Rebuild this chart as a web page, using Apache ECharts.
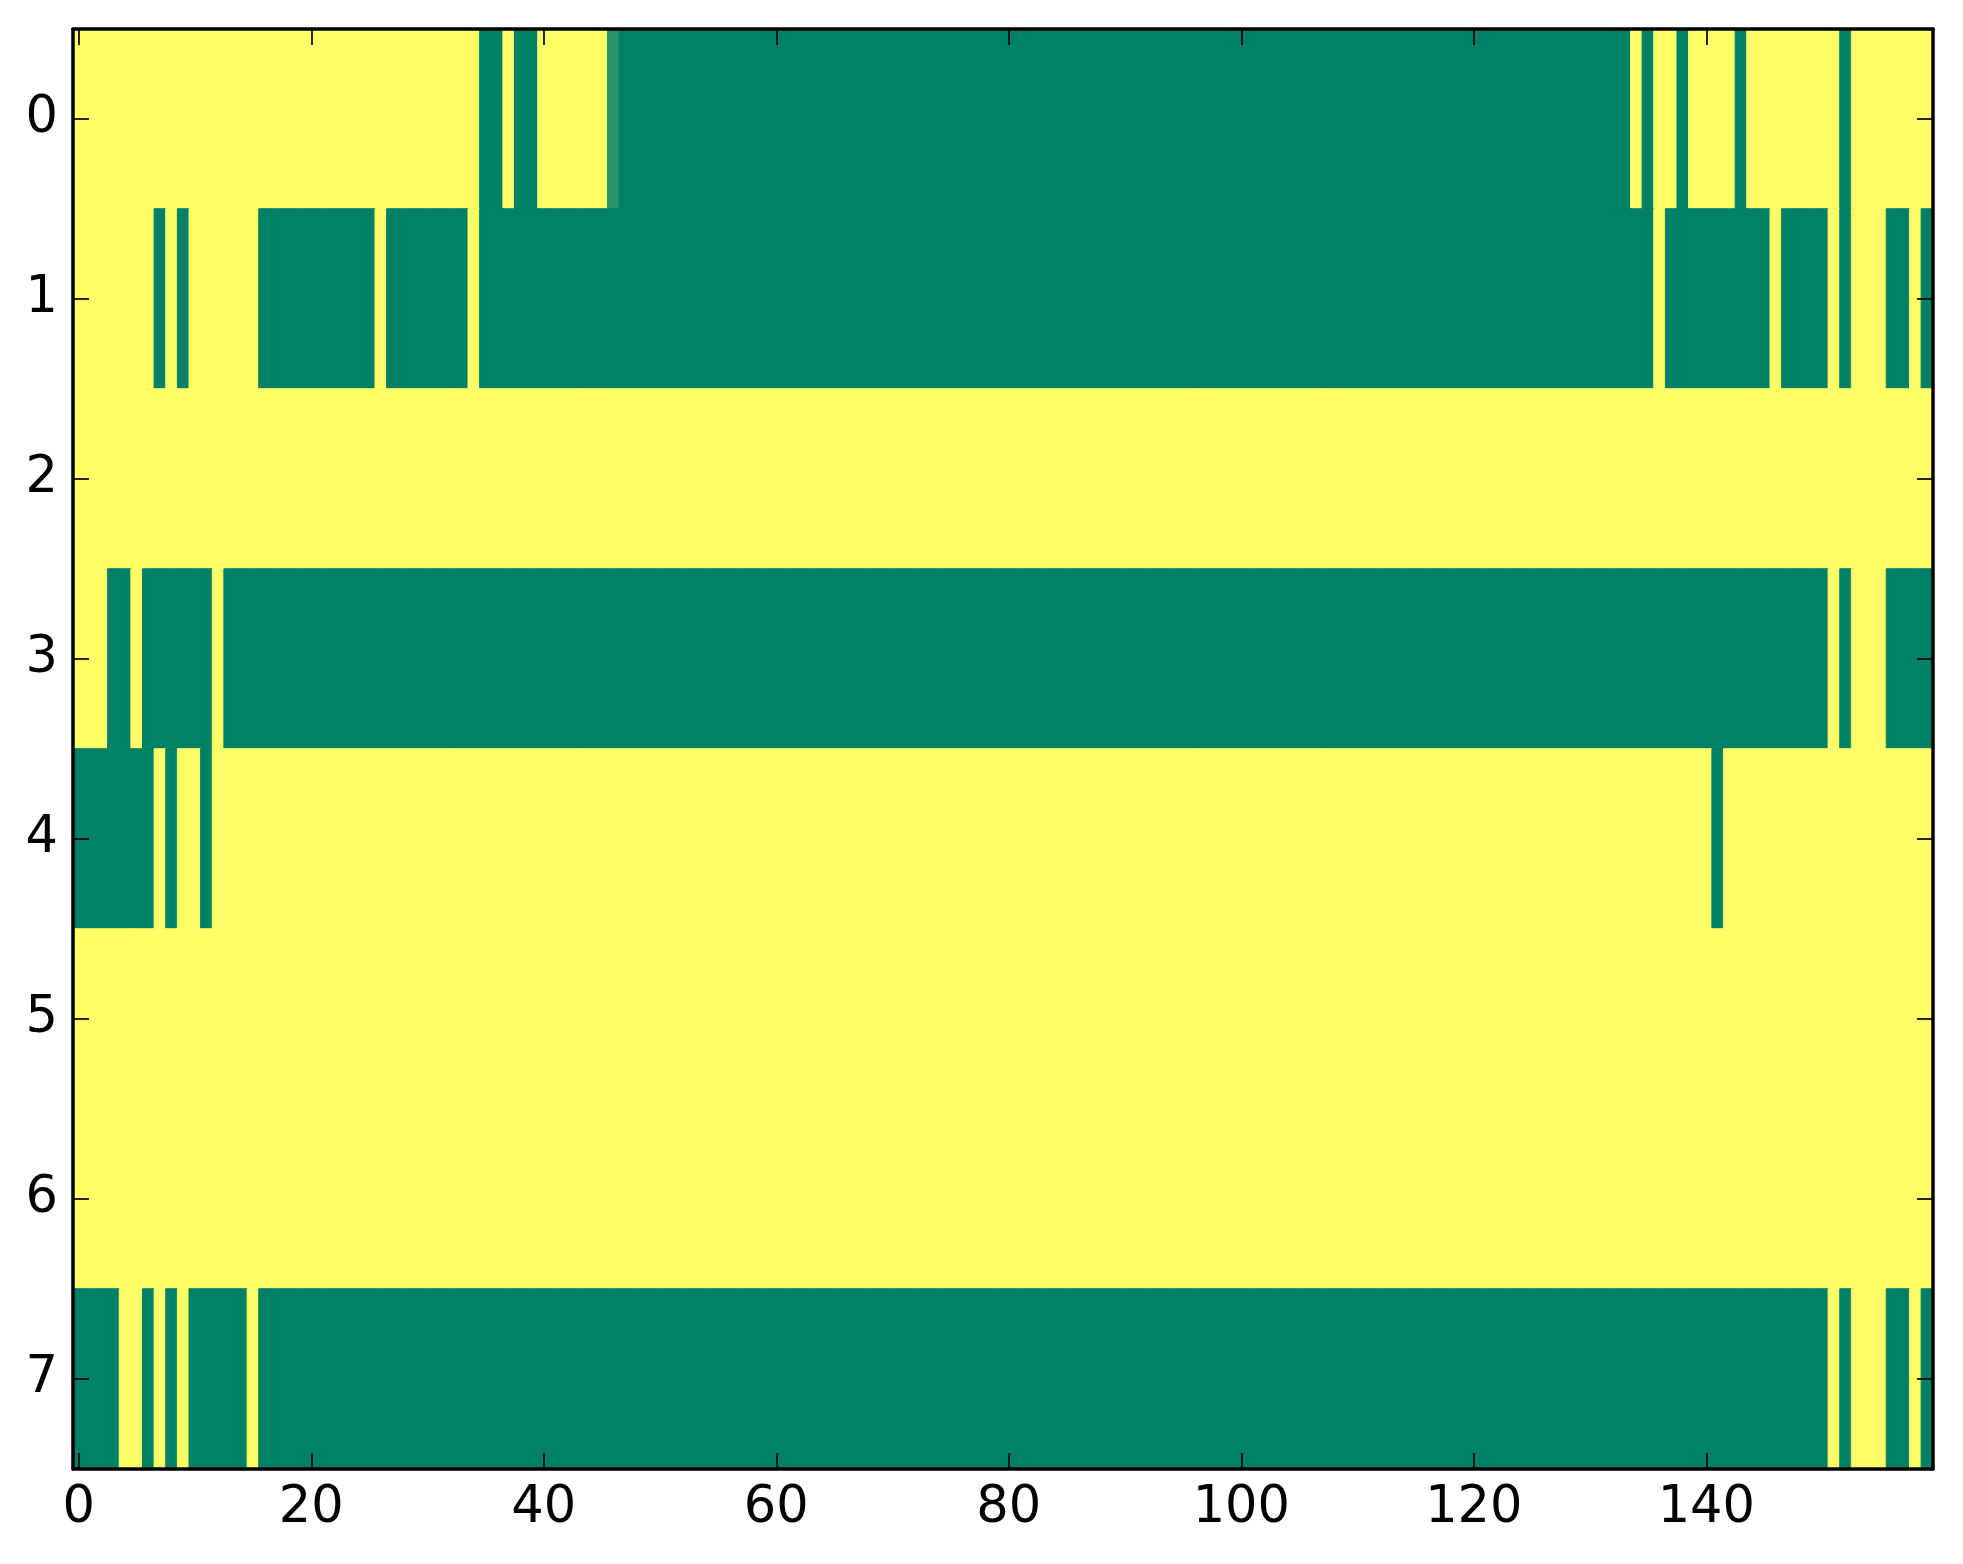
<!DOCTYPE html>
<html>
<head>
<meta charset="utf-8">
<script src="https://cdn.jsdelivr.net/npm/echarts@6/dist/echarts.min.js"></script>
<style>
  html, body { margin: 0; padding: 0; background: #fff; }
  #main { width: 1963px; height: 1564px; }
</style>
</head>
<body>
<div id="main"></div>
<script>
// 8 rows x 160 columns, 1 = yellow, 0 = green (one cell slightly above 0)
const row0 = [
  1,1,1,1,1,1,1,1,1,1,1,1,1,1,1,1,1,1,1,1,
  1,1,1,1,1,1,1,1,1,1,1,1,1,1,1,0,0,1,0,0,
  1,1,1,1,1,1,0.16,0,0,0,0,0,0,0,0,0,0,0,0,0,
  0,0,0,0,0,0,0,0,0,0,0,0,0,0,0,0,0,0,0,0,
  0,0,0,0,0,0,0,0,0,0,0,0,0,0,0,0,0,0,0,0,
  0,0,0,0,0,0,0,0,0,0,0,0,0,0,0,0,0,0,0,0,
  0,0,0,0,0,0,0,0,0,0,0,0,0,0,1,0,1,1,0,1,
  1,1,1,0,1,1,1,1,1,1,1,1,0,1,1,1,1,1,1,1
];
const row1 = [
  1,1,1,1,1,1,1,0,1,0,1,1,1,1,1,1,0,0,0,0,
  0,0,0,0,0,0,1,0,0,0,0,0,0,0,1,0,0,0,0,0,
  0,0,0,0,0,0,0,0,0,0,0,0,0,0,0,0,0,0,0,0,
  0,0,0,0,0,0,0,0,0,0,0,0,0,0,0,0,0,0,0,0,
  0,0,0,0,0,0,0,0,0,0,0,0,0,0,0,0,0,0,0,0,
  0,0,0,0,0,0,0,0,0,0,0,0,0,0,0,0,0,0,0,0,
  0,0,0,0,0,0,0,0,0,0,0,0,0,0,0,0,1,0,0,0,
  0,0,0,0,0,0,1,0,0,0,0,1,0,1,1,1,0,0,1,0
];
const row2 = [
  1,1,1,1,1,1,1,1,1,1,1,1,1,1,1,1,1,1,1,1,
  1,1,1,1,1,1,1,1,1,1,1,1,1,1,1,1,1,1,1,1,
  1,1,1,1,1,1,1,1,1,1,1,1,1,1,1,1,1,1,1,1,
  1,1,1,1,1,1,1,1,1,1,1,1,1,1,1,1,1,1,1,1,
  1,1,1,1,1,1,1,1,1,1,1,1,1,1,1,1,1,1,1,1,
  1,1,1,1,1,1,1,1,1,1,1,1,1,1,1,1,1,1,1,1,
  1,1,1,1,1,1,1,1,1,1,1,1,1,1,1,1,1,1,1,1,
  1,1,1,1,1,1,1,1,1,1,1,1,1,1,1,1,1,1,1,1
];
const row3 = [
  1,1,1,0,0,1,0,0,0,0,0,0,1,0,0,0,0,0,0,0,
  0,0,0,0,0,0,0,0,0,0,0,0,0,0,0,0,0,0,0,0,
  0,0,0,0,0,0,0,0,0,0,0,0,0,0,0,0,0,0,0,0,
  0,0,0,0,0,0,0,0,0,0,0,0,0,0,0,0,0,0,0,0,
  0,0,0,0,0,0,0,0,0,0,0,0,0,0,0,0,0,0,0,0,
  0,0,0,0,0,0,0,0,0,0,0,0,0,0,0,0,0,0,0,0,
  0,0,0,0,0,0,0,0,0,0,0,0,0,0,0,0,0,0,0,0,
  0,0,0,0,0,0,0,0,0,0,0,1,0,1,1,1,0,0,0,0
];
const row4 = [
  0,0,0,0,0,0,0,1,0,1,1,0,1,1,1,1,1,1,1,1,
  1,1,1,1,1,1,1,1,1,1,1,1,1,1,1,1,1,1,1,1,
  1,1,1,1,1,1,1,1,1,1,1,1,1,1,1,1,1,1,1,1,
  1,1,1,1,1,1,1,1,1,1,1,1,1,1,1,1,1,1,1,1,
  1,1,1,1,1,1,1,1,1,1,1,1,1,1,1,1,1,1,1,1,
  1,1,1,1,1,1,1,1,1,1,1,1,1,1,1,1,1,1,1,1,
  1,1,1,1,1,1,1,1,1,1,1,1,1,1,1,1,1,1,1,1,
  1,0,1,1,1,1,1,1,1,1,1,1,1,1,1,1,1,1,1,1
];
const row5 = row2.slice();
const row6 = row2.slice();
const row7 = [
  0,0,0,0,1,1,0,1,0,1,0,0,0,0,0,1,0,0,0,0,
  0,0,0,0,0,0,0,0,0,0,0,0,0,0,0,0,0,0,0,0,
  0,0,0,0,0,0,0,0,0,0,0,0,0,0,0,0,0,0,0,0,
  0,0,0,0,0,0,0,0,0,0,0,0,0,0,0,0,0,0,0,0,
  0,0,0,0,0,0,0,0,0,0,0,0,0,0,0,0,0,0,0,0,
  0,0,0,0,0,0,0,0,0,0,0,0,0,0,0,0,0,0,0,0,
  0,0,0,0,0,0,0,0,0,0,0,0,0,0,0,0,0,0,0,0,
  0,0,0,0,0,0,0,0,0,0,0,1,0,1,1,1,0,0,1,0
];
const rows = [row0, row1, row2, row3, row4, row5, row6, row7];

const xCats = row0.map((v, i) => String(i));
const yCats = ["0", "1", "2", "3", "4", "5", "6", "7"];
const xTickStep = 20;

// "summer" colour map: 0 -> (0, 128, 102), 1 -> (255, 255, 102)
function summer(v) {
  const r = Math.round(255 * v);
  const g = Math.round(255 * (0.5 + 0.5 * v));
  const b = 102;
  return "rgb(" + r + "," + g + "," + b + ")";
}

// each cell stroked with its own colour so neighbouring cells leave no seams
const cells = [];
rows.forEach((r, y) => {
  r.forEach((v, x) => {
    const c = summer(v);
    cells.push({
      value: [x, y, v],
      itemStyle: { color: c, borderColor: c, borderWidth: 1 }
    });
  });
});

const font = "DejaVu Sans";
const every20 = function(i) { return i % xTickStep === 0; };

let mychart = echarts.init(document.getElementById("main"));

mychart.setOption({
  animation: false,
  backgroundColor: "#fff",
  grid: {
    left: 73,
    right: 30,
    top: 29,
    bottom: 95
  },
  xAxis: [
    {
      type: "category",
      data: xCats,
      position: "bottom",
      z: 10,
      axisLine: { show: true, lineStyle: { color: "#000", width: 3.5 } },
      axisTick: {
        show: true,
        inside: true,
        alignWithLabel: true,
        interval: every20,
        length: 16,
        lineStyle: { color: "#000", width: 1.7 }
      },
      axisLabel: {
        show: true,
        interval: every20,
        color: "#000",
        fontFamily: font,
        fontSize: 51,
        margin: 14
      },
      splitLine: { show: false }
    },
    {
      type: "category",
      data: xCats,
      position: "top",
      z: 10,
      axisLine: { show: true, lineStyle: { color: "#000", width: 3.5 } },
      axisTick: {
        show: true,
        inside: true,
        alignWithLabel: true,
        interval: every20,
        length: 16,
        lineStyle: { color: "#000", width: 1.7 }
      },
      axisLabel: { show: false },
      splitLine: { show: false }
    }
  ],
  yAxis: [
    {
      type: "category",
      data: yCats,
      inverse: true,
      position: "left",
      z: 10,
      axisLine: { show: true, lineStyle: { color: "#000", width: 3.5 } },
      axisTick: {
        show: true,
        inside: true,
        alignWithLabel: true,
        length: 16,
        lineStyle: { color: "#000", width: 1.7 }
      },
      axisLabel: {
        show: true,
        color: "#000",
        fontFamily: font,
        fontSize: 51,
        margin: 15
      },
      splitLine: { show: false }
    },
    {
      type: "category",
      data: yCats,
      inverse: true,
      position: "right",
      z: 10,
      axisLine: { show: true, lineStyle: { color: "#000", width: 3.5 } },
      axisTick: {
        show: true,
        inside: true,
        alignWithLabel: true,
        length: 16,
        lineStyle: { color: "#000", width: 1.7 }
      },
      axisLabel: { show: false },
      splitLine: { show: false }
    }
  ],
  series: [
    {
      type: "heatmap",
      xAxisIndex: 0,
      yAxisIndex: 0,
      data: cells,
      emphasis: { disabled: true }
    }
  ]
});
</script>
</body>
</html>
